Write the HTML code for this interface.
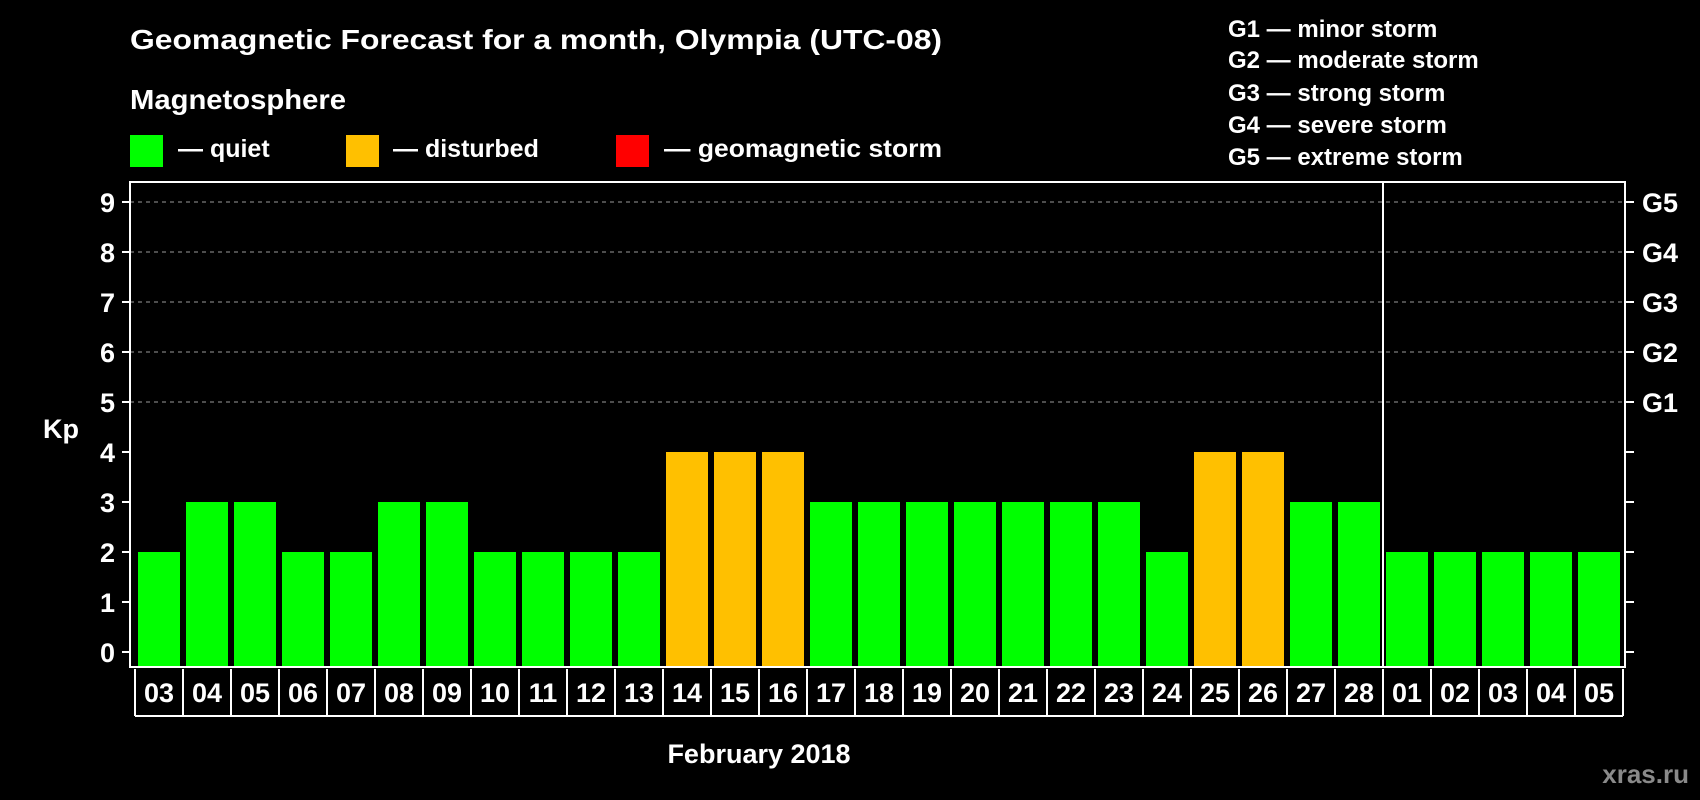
<!DOCTYPE html>
<html><head><meta charset="utf-8"><style>
html,body{margin:0;padding:0;background:#000;}
svg{display:block;font-family:"Liberation Sans",Arial,sans-serif;font-weight:bold;}
</style></head><body>
<svg id="chart" width="1700" height="800" viewBox="0 0 1700 800" xmlns="http://www.w3.org/2000/svg">
<rect x="0" y="0" width="1700" height="800" fill="#000"/>
<text x="130" y="49" font-size="28" fill="#fff" textLength="812" lengthAdjust="spacingAndGlyphs">Geomagnetic Forecast for a month, Olympia (UTC-08)</text>
<text x="130" y="109" font-size="28" fill="#fff" textLength="216" lengthAdjust="spacingAndGlyphs">Magnetosphere</text>
<g>
<rect x="130" y="135" width="33" height="32" fill="#00ff00"/>
<text x="178" y="157" font-size="25" fill="#fff">— quiet</text></g>
<g>
<rect x="346" y="135" width="33" height="32" fill="#ffc000"/>
<text x="393" y="157" font-size="25" fill="#fff">— disturbed</text></g>
<g>
<rect x="616" y="135" width="33" height="32" fill="#ff0000"/>
<text x="664" y="157" font-size="25" fill="#fff" textLength="278" lengthAdjust="spacingAndGlyphs">— geomagnetic storm</text></g>
<g font-size="24" fill="#fff">
<text x="1228" y="37">G1 — minor storm</text>
<text x="1228" y="68">G2 — moderate storm</text>
<text x="1228" y="101">G3 — strong storm</text>
<text x="1228" y="133">G4 — severe storm</text>
<text x="1228" y="165">G5 — extreme storm</text>
</g>
<g id="grid"></g>
<g id="bars"></g>
<g id="axes"></g>
<text x="43" y="438" font-size="27" fill="#fff">Kp</text>
<text x="759" y="763" font-size="27" fill="#fff" text-anchor="middle">February 2018</text>
<text x="1689" y="783" font-size="26" fill="#8a8a8a" text-anchor="end">xras.ru</text>
</svg>
<script>
const days = ["03","04","05","06","07","08","09","10","11","12","13","14","15","16","17","18","19","20","21","22","23","24","25","26","27","28","01","02","03","04","05"];
const kpValues = [2,3,3,2,2,3,3,2,2,2,2,4,4,4,3,3,3,3,3,3,3,2,4,4,3,3,2,2,2,2,2];
const yTicks = [0,1,2,3,4,5,6,7,8,9];
const stormLabels = ["G1","G2","G3","G4","G5"];
const monthBreakIndex = 26;

const NS = "http://www.w3.org/2000/svg";
const plotLeft = 130, plotRight = 1625, plotTop = 182, plotBottom = 667;
const slot0 = 135, pitch = (1623 - 135) / 31;
const y0 = 652, unit = 50;
function yScale(v){ return y0 - v * unit; }
function xSlot(i){ return slot0 + i * pitch; }
function mk(tag, attrs, parent){ const e = document.createElementNS(NS, tag); for (const k in attrs) e.setAttribute(k, attrs[k]); parent.appendChild(e); return e; }

const gridG = document.getElementById('grid');
const barsG = document.getElementById('bars');
const axesG = document.getElementById('axes');

yTicks.forEach(function(t){
  const y = yScale(t);
  if (t >= 5) {
    const g = mk('line', {x1: plotLeft, x2: plotRight, y1: y, y2: y, stroke: '#9a9a9a', 'stroke-width': 1, 'stroke-dasharray': '4,4'}, gridG);
    
    
  }
  const tl = mk('line', {x1: plotLeft - 8, x2: plotLeft, y1: y, y2: y, stroke: '#fff', 'stroke-width': 2}, axesG);
  
  
  const tr = mk('line', {x1: plotRight, x2: plotRight + 9, y1: y, y2: y, stroke: '#fff', 'stroke-width': 2}, axesG);
  
  
  const lab = mk('text', {x: 115, y: y + 10, 'font-size': 27, fill: '#fff', 'text-anchor': 'end'}, axesG);
  lab.textContent = t;
  
  
});
stormLabels.forEach(function(s, i){
  const lab = mk('text', {x: 1642, y: yScale(5 + i) + 10, 'font-size': 27, fill: '#fff'}, axesG);
  lab.textContent = s;
  
  
});

kpValues.forEach(function(v, i){
  const color = v >= 5 ? '#ff0000' : (v >= 4 ? '#ffc000' : '#00ff00');
  const b = mk('rect', {x: xSlot(i) + 3, y: yScale(v), width: pitch - 6, height: plotBottom - yScale(v), fill: color}, barsG);
  
  
});

const frame = mk('rect', {x: plotLeft, y: plotTop, width: plotRight - plotLeft, height: plotBottom - plotTop, fill: 'none', stroke: '#fff', 'stroke-width': 2}, axesG);


const sep = mk('line', {x1: xSlot(monthBreakIndex), x2: xSlot(monthBreakIndex), y1: plotTop, y2: plotBottom, stroke: '#fff', 'stroke-width': 2}, axesG);



const boxTop = 669, boxBot = 716;
const bl = mk('line', {x1: xSlot(0), x2: xSlot(days.length), y1: boxBot, y2: boxBot, stroke: '#fff', 'stroke-width': 2}, axesG);


for (let i = 0; i <= days.length; i++) {
  const l = mk('line', {x1: xSlot(i), x2: xSlot(i), y1: boxTop, y2: boxBot, stroke: '#fff', 'stroke-width': 2}, axesG);
  
  
}
days.forEach(function(d, i){
  const t = mk('text', {x: xSlot(i) + pitch / 2, y: 702, 'font-size': 27, fill: '#fff', 'text-anchor': 'middle'}, axesG);
  t.textContent = d;
  
  
});
</script>
</body></html>
